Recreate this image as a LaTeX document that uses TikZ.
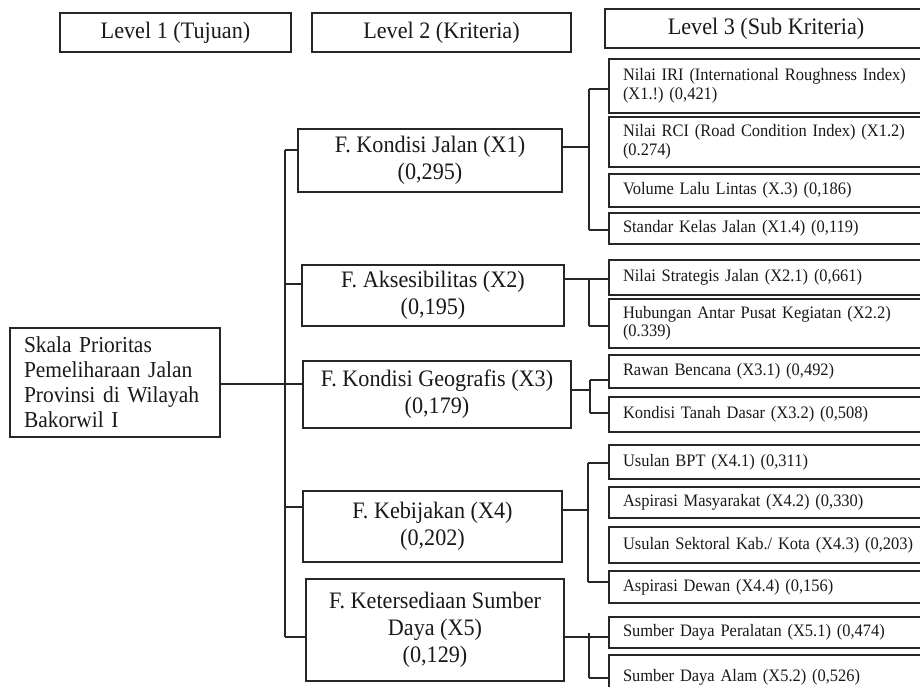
\documentclass[tikz,border=0pt]{standalone}
\usepackage{fontspec}
\setmainfont{Liberation Serif}[FakeStretch=0.94]
\frenchspacing
\begin{document}
\begin{tikzpicture}[x=1pt,y=-1pt,
  line width=1.3pt, draw=black!85,
  hdr/.style={draw, inner sep=0pt, font=\fontsize{23.6}{26}\selectfont, text=black!90},
  crit/.style={draw, inner sep=0pt, align=center, font=\fontsize{23.6}{27}\selectfont, text=black!90},
  goal/.style={draw, inner xsep=0pt, inner ysep=0pt, align=left, text width=182pt, minimum width=210pt, font=\fontsize{22.8}{25}\selectfont, text=black!90},
  sub/.style={draw, inner xsep=0pt, inner ysep=0pt, align=left, text width=303pt, minimum width=331pt, font=\fontsize{17.5}{18.5}\selectfont, text=black!90},
  conn/.style={line width=1.3pt, draw=black!85}]
\useasboundingbox (0,0) rectangle (920,686);
\clip (0,0) rectangle (920,686);
\fill[white] (0,0) rectangle (920,686);

% headers
\node[hdr, minimum width=231pt, minimum height=39pt] (L1) at (175.5,32.5) {Level 1 (Tujuan)};
\node[hdr, minimum width=259pt, minimum height=39pt] (L2) at (441.5,32.5) {Level 2 (Kriteria)};
\node[hdr, minimum width=322pt, minimum height=39pt] (L3) at (766,28.5) {Level 3 (Sub Kriteria)};

% goal
\node[goal, minimum height=109pt] (S) at (115,382.5) {Skala Prioritas\\Pemeliharaan Jalan\\Provinsi di Wilayah\\Bakorwil I};

% criteria
\node[crit, minimum width=264pt, minimum height=63pt] (K1) at (430,160.5) {F. Kondisi Jalan (X1)\\(0,295)};
\node[crit, minimum width=262pt, minimum height=61pt] (K2) at (433,295.5) {F. Aksesibilitas (X2)\\(0,195)};
\node[crit, minimum width=268pt, minimum height=67pt] (K3) at (437,394.5) {F. Kondisi Geografis (X3)\\(0,179)};
\node[crit, minimum width=259pt, minimum height=71pt] (K4) at (432.5,526.5) {F. Kebijakan (X4)\\(0,202)};
\node[crit, minimum width=258pt, minimum height=102pt] (K5) at (435,630) {F. Ketersediaan Sumber\\Daya (X5)\\(0,129)};

% sub criteria
\node[sub, minimum height=54pt] (X11) at (774.5,86) {Nilai IRI (International Roughness Index)\\(X1.!) (0,421)};
\node[sub, minimum height=50pt] (X12) at (774.5,142) {Nilai RCI (Road Condition Index) (X1.2)\\(0.274)};
\node[sub, minimum height=33pt] (X13) at (774.5,190.5) {Volume Lalu Lintas (X.3) (0,186)};
\node[sub, minimum height=31pt] (X14) at (774.5,228.5) {Standar Kelas Jalan (X1.4) (0,119)};
\node[sub, minimum height=35pt] (X21) at (774.5,277.5) {Nilai Strategis Jalan (X2.1) (0,661)};
\node[sub, minimum height=49pt] (X22) at (774.5,323.5) {Hubungan Antar Pusat Kegiatan (X2.2)\\(0.339)};
\node[sub, minimum height=33pt] (X31) at (774.5,371.5) {Rawan Bencana (X3.1) (0,492)};
\node[sub, minimum height=35pt] (X32) at (774.5,414.5) {Kondisi Tanah Dasar (X3.2) (0,508)};
\node[sub, minimum height=34pt] (X41) at (774.5,462) {Usulan BPT (X4.1) (0,311)};
\node[sub, minimum height=31pt] (X42) at (774.5,502.5) {Aspirasi Masyarakat (X4.2) (0,330)};
\node[sub, minimum height=36pt] (X43) at (774.5,545) {Usulan Sektoral Kab./ Kota (X4.3) (0,203)};
\node[sub, minimum height=32pt] (X44) at (774.5,587) {Aspirasi Dewan (X4.4) (0,156)};
\node[sub, minimum height=31pt] (X51) at (774.5,632.5) {Sumber Daya Peralatan (X5.1) (0,474)};
\node[sub, minimum height=45pt] (X52) at (774.5,677.5) {Sumber Daya Alam (X5.2) (0,526)};

% left bus
\coordinate (t1) at (285,150);
\coordinate (t2) at (285,284);
\coordinate (t3) at (285,384);
\coordinate (t4) at (285,507);
\coordinate (t5) at (285,637);
\draw[conn] (t1) -- (t5);
\draw[conn] (S.east |- t3) -- (t3);
\draw[conn] (t1) -- (K1.west |- t1);
\draw[conn] (t2) -- (K2.west |- t2);
\draw[conn] (t3) -- (K3.west |- t3);
\draw[conn] (t4) -- (K4.west |- t4);
\draw[conn] (t5) -- (K5.west |- t5);

% X1 bracket
\coordinate (r1) at (589,147);
\coordinate (b1a) at (589,89);
\coordinate (b1b) at (589,230);
\draw[conn] (K1.east |- r1) -- (r1);
\draw[conn] (b1a) -- (b1b);
\draw[conn] (b1a) -- (X11.west |- b1a);
\draw[conn] (b1b) -- (X14.west |- b1b);

% X2 bracket
\coordinate (b2a) at (589,279);
\coordinate (b2b) at (589,326);
\draw[conn] (K2.east |- b2a) -- (X21.west |- b2a);
\draw[conn] (b2a) -- (b2b);
\draw[conn] (b2b) -- (X22.west |- b2b);

% X3 bracket
\coordinate (r3) at (590,390);
\coordinate (b3a) at (590,380);
\coordinate (b3b) at (590,413);
\draw[conn] (K3.east |- r3) -- (r3);
\draw[conn] (b3a) -- (b3b);
\draw[conn] (b3a) -- (X31.west |- b3a);
\draw[conn] (b3b) -- (X32.west |- b3b);

% X4 bracket
\coordinate (r4) at (588,510);
\coordinate (b4a) at (588,463);
\coordinate (b4b) at (588,582);
\draw[conn] (K4.east |- r4) -- (r4);
\draw[conn] (b4a) -- (b4b);
\draw[conn] (b4a) -- (X41.west |- b4a);
\draw[conn] (b4b) -- (X44.west |- b4b);

% X5 bracket
\coordinate (b5a) at (589,633);
\coordinate (b5b) at (589,678);
\coordinate (r5) at (589,637);
\draw[conn] (K5.east |- r5) -- (X51.west |- r5);
\draw[conn] (b5a) -- (b5b);
\draw[conn] (b5b) -- (X52.west |- b5b);
\end{tikzpicture}
\end{document}
